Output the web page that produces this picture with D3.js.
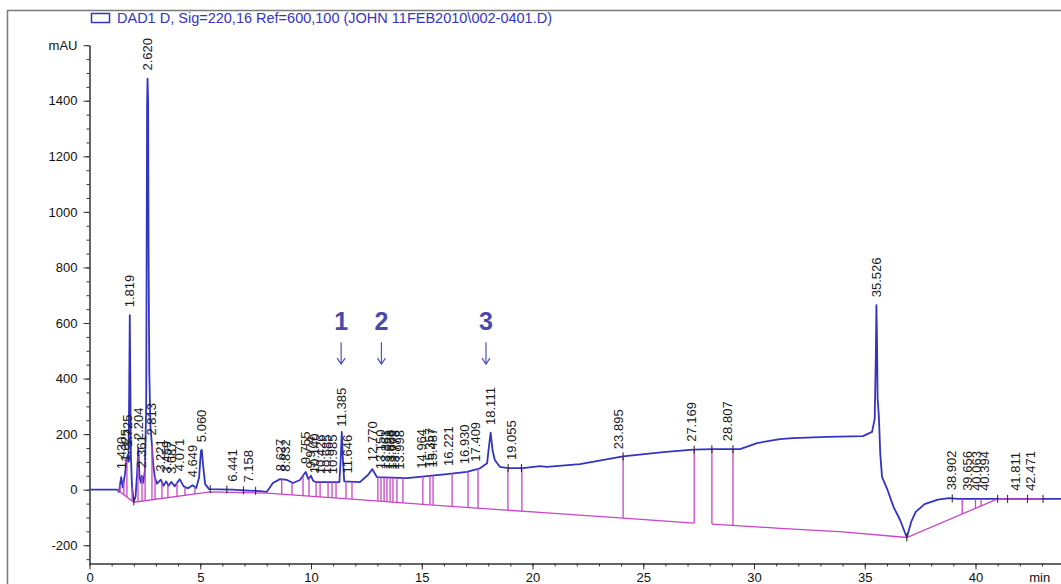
<!DOCTYPE html>
<html>
<head>
<meta charset="utf-8">
<script src="https://cdn.jsdelivr.net/npm/d3@7"></script>
<style>
  body { margin: 0; background: #fff; }
  svg { display: block; font-family: Arial, "Liberation Sans", sans-serif; }
</style>
</head>
<body>
<div id="chart"></div>
<script>
/* global d3 */

// 信号 [min, mAU]
var signal = [
  [0, 0], [1.25, 0], [1.33, -8], [1.43, 45], [1.50, 8], [1.60, 55], [1.68, 110], [1.725, 125], [1.76, 100],
  [1.79, 330], [1.819, 628], [1.84, 420], [1.87, 120], [1.92, 10], [2.00, -42], [2.08, -25],
  [2.15, 60], [2.204, 150], [2.26, 45], [2.32, 25], [2.36, 50], [2.43, 25], [2.50, 70], [2.56, 300],
  [2.60, 1380], [2.62, 1480], [2.645, 1400], [2.67, 800], [2.70, 420], [2.75, 230], [2.81, 170],
  [2.87, 95], [2.95, 45], [3.05, 22], [3.22, 36], [3.34, 14], [3.46, 30], [3.57, 14], [3.69, 28],
  [3.85, 12], [4.07, 38], [4.25, 12], [4.45, 5], [4.65, 16], [4.82, 6], [4.95, 45], [5.03, 140],
  [5.07, 143], [5.12, 95], [5.22, 20], [5.40, 2], [6.44, 0], [7.16, -3], [7.70, -5], [8.00, -8],
  [8.28, 24], [8.60, 38], [8.92, 35], [9.19, 24], [9.50, 35], [9.76, 64], [9.88, 38], [10.0, 50],
  [10.1, 32], [10.23, 27], [11.28, 27], [11.34, 110], [11.39, 208], [11.44, 110], [11.50, 30],
  [12.21, 27], [12.57, 53], [12.77, 74], [12.98, 45], [14.33, 42], [15.24, 49], [16.14, 56],
  [17.04, 64], [17.63, 77], [17.95, 95], [18.04, 160], [18.11, 205], [18.2, 140], [18.3, 107],
  [18.53, 82], [18.9, 78], [19.57, 78], [20.34, 85], [20.65, 82], [22.14, 92], [24.09, 120],
  [25.9, 135], [27.25, 144], [28.15, 146], [29.37, 146], [30.14, 168], [31.17, 182], [31.76, 186],
  [33.3, 190], [34.92, 193], [35.33, 208], [35.45, 255], [35.50, 480], [35.526, 664], [35.55, 560],
  [35.58, 330], [35.64, 260], [35.70, 130], [35.78, 46], [36.0, 5], [36.3, -62], [36.6, -110],
  [36.9, -172], [37.1, -115], [37.3, -80], [37.7, -52], [38.3, -36], [38.8, -30], [39.2, -33], [44, -33]
];

// ベースライン（区間ごと）
var baselineA = [[1.25, 0], [2.0, -45], [5.45, -8], [8.0, -12], [12, -35], [16, -58], [20, -80], [24.1, -102], [27.3, -120]];
var baselineB = [[28.1, -124], [31, -138], [34, -152], [36.9, -172], [41.0, -33], [43.05, -33]];

// 垂線を下ろす時間
var dropTimes = [1.38, 1.55, 1.69, 1.92, 2.19, 2.37, 2.51, 2.82, 2.96, 3.27, 3.54, 3.95, 4.31, 4.76,
  8.68, 9.14, 9.64, 9.91, 10.23, 10.41, 10.77, 10.95, 11.13, 11.58, 11.85,
  13.02, 13.16, 13.30, 13.43, 13.57, 13.70, 13.88, 14.15, 15.05, 15.37, 15.51, 16.37, 17.09, 17.54,
  18.89, 19.52, 24.09, 27.3, 28.1, 29.05, 39.4, 40.0, 40.25];

// ピーク開始・終了の目盛り
var markTimes = [2.0, 5.45, 6.2, 6.95, 7.5, 18.9, 19.5, 24.09, 27.3, 28.1, 29.05, 36.9, 38.95, 41.0, 41.45, 42.35, 43.05];

// 保持時間ラベル
var peakLabels = ['1.430', '1.625', '1.725', '1.819', '2.204', '2.361', '2.620', '2.813', '3.221', '3.459',
  '3.687', '4.071', '4.649', '5.060', '6.441', '7.158', '8.627', '8.832', '9.755', '9.974', '10.140',
  '10.426', '10.685', '10.985', '11.385', '11.646', '12.770', '13.150', '13.361', '13.528', '13.609',
  '13.778', '13.998', '14.964', '15.357', '15.487', '16.221', '16.930', '17.409', '18.111', '19.055',
  '23.895', '27.169', '28.807', '35.526', '38.902', '39.656', '40.063', '40.394', '41.811', '42.471'];

// 注目ピーク
var markerLabels = ['1', '2', '3'];
var markerTimes = [11.36, 13.18, 17.9];
var markerLevels = [575, 531, 452]; // 文字, 矢印の上端, 矢印の下端 (mAU)

var yMajor = d3.range(-200, 1601, 200);
var yMinorTicks = d3.range(-250, 1601, 50);
var xMajor = d3.range(0, 41, 5);
var xMinorTicks = d3.range(0, 44, 1);

var legendText = 'DAD1 D, Sig=220,16 Ref=600,100 (JOHN 11FEB2010\\002-0401.D)';

var width = 1061;
var height = 584;

var blue = '#3434c4';
var pink = '#c844c8';

var x = d3.scaleLinear().domain([0, 44]).range([89.5, 1064.1]);
var y = d3.scaleLinear().domain([-266, 1600]).range([563.6, 45.2]);

// 時間→信号値（区間線形）
var sig = d3.scaleLinear()
  .domain(signal.map(function(d) { return d[0]; }))
  .range(signal.map(function(d) { return d[1]; }));

function baseAt(t) {
  var segs = [baselineA, baselineB];
  for (var i = 0; i < segs.length; i++) {
    var s = segs[i];
    if (t >= s[0][0] && t <= s[s.length - 1][0]) {
      return d3.scaleLinear().domain(s.map(function(d) { return d[0]; })).range(s.map(function(d) { return d[1]; }))(t);
    }
  }
  return sig(t);
}

var svg = d3.select('#chart').append('svg').attr('width', width).attr('height', height);

// 枠
svg.append('path')
  .attr('d', 'M7.5,' + height + 'V10.5H' + width)
  .attr('fill', 'none')
  .attr('stroke', '#7a7a7a')
  .attr('stroke-width', 1.5);

// 凡例
svg.append('rect')
  .attr('x', 91.5).attr('y', 13.5).attr('width', 18).attr('height', 9)
  .attr('fill', 'none').attr('stroke', blue).attr('stroke-width', 1.5);
svg.append('text')
  .attr('x', 117).attr('y', 23)
  .attr('fill', blue)
  .style('font-size', '14.5px')
  .text(legendText);

// y軸
var yAxisG = svg.append('g').attr('transform', 'translate(89.5,0)');
yAxisG.call(d3.axisLeft(y).tickValues(yMinorTicks).tickSize(3).tickSizeOuter(0).tickFormat(''));
yAxisG.append('g').call(d3.axisLeft(y).tickValues(yMajor).tickSize(6).tickSizeOuter(0).tickPadding(6)
  .tickFormat(function(d) { return d === 1600 ? 'mAU' : String(d); }));

// x軸
var xAxisG = svg.append('g').attr('transform', 'translate(0,563.5)');
xAxisG.call(d3.axisBottom(x).tickValues(xMinorTicks).tickSize(3).tickSizeOuter(0).tickFormat(''));
xAxisG.append('g').call(d3.axisBottom(x).tickValues(xMajor).tickSize(6).tickSizeOuter(0).tickPadding(3)
  .tickFormat(function(d) { return String(d); }));
xAxisG.append('text')
  .attr('x', x(42.9)).attr('y', 9).attr('dy', '0.71em')
  .attr('fill', '#111').style('font-size', '13px')
  .text('min');

svg.selectAll('.tick text').attr('fill', '#111').style('font-size', '13px');
svg.selectAll('.domain, .tick line').attr('stroke', '#333');

var line = d3.line()
  .x(function(d) { return x(d[0]); })
  .y(function(d) { return y(d[1]); });

// 信号
svg.append('path')
  .datum(signal)
  .attr('d', line)
  .attr('fill', 'none')
  .attr('stroke', blue)
  .attr('stroke-width', 1.8)
  .attr('stroke-linejoin', 'round');

// ベースラインと垂線
var baseLayer = svg.append('g').attr('fill', 'none').attr('stroke', pink).attr('stroke-width', 1.3);
baseLayer.selectAll('path.base')
  .data([baselineA, baselineB])
  .enter()
  .append('path')
  .attr('class', 'base')
  .attr('d', line);

baseLayer.selectAll('line.drop')
  .data(dropTimes)
  .enter()
  .append('line')
  .attr('class', 'drop')
  .attr('x1', function(d) { return x(d); })
  .attr('x2', function(d) { return x(d); })
  .attr('y1', function(d) { return y(sig(d)); })
  .attr('y2', function(d) { return y(baseAt(d)); });

// 目盛り
svg.append('g').selectAll('line')
  .data(markTimes)
  .enter()
  .append('line')
  .attr('x1', function(d) { return x(d); })
  .attr('x2', function(d) { return x(d); })
  .attr('y1', function(d) { return y(sig(d)) - 4; })
  .attr('y2', function(d) { return y(sig(d)) + 4; })
  .attr('stroke', '#222')
  .attr('stroke-width', 1);

// 保持時間ラベル
svg.append('g').selectAll('text')
  .data(peakLabels)
  .enter()
  .append('text')
  .attr('transform', function(d) {
    var t = +d;
    return 'translate(' + x(t) + ',' + (y(sig(t)) - 8) + ') rotate(-90)';
  })
  .attr('dy', '0.35em')
  .attr('fill', '#1a1a1a')
  .style('font-size', '13px')
  .text(function(d) { return d; });

// 注目ピーク 1,2,3
var markerG = svg.append('g');
markerG.selectAll('text')
  .data(markerLabels)
  .enter()
  .append('text')
  .attr('x', function(d, i) { return x(markerTimes[i]); })
  .attr('y', y(markerLevels[0]))
  .attr('text-anchor', 'middle')
  .attr('fill', '#4a4aa8')
  .style('font-size', '25px')
  .style('font-weight', 'bold')
  .text(function(d) { return d; });

markerG.selectAll('path')
  .data(markerTimes)
  .enter()
  .append('path')
  .attr('d', function(d) {
    var px = x(d);
    var yb = y(markerLevels[2]);
    return 'M' + px + ',' + y(markerLevels[1]) + 'V' + yb +
      'M' + (px - 4) + ',' + (yb - 6) + 'L' + px + ',' + yb + 'L' + (px + 4) + ',' + (yb - 6);
  })
  .attr('fill', 'none')
  .attr('stroke', '#5050c0')
  .attr('stroke-width', 1.2);
</script>
</body>
</html>
